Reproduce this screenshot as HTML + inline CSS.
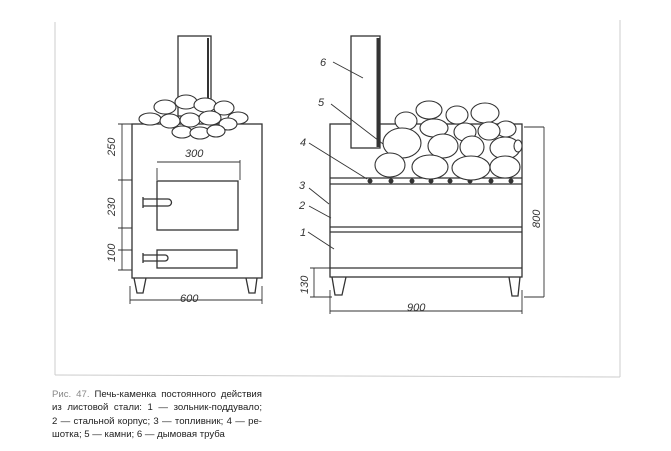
<!DOCTYPE html>
<html><head><meta charset="utf-8"><style>
body{margin:0;background:#fff;width:671px;height:451px;overflow:hidden;position:relative;font-family:"Liberation Sans",sans-serif}
.cap{position:absolute;left:52px;top:388px;width:210px;font-size:9.6px;line-height:13.3px;color:#222;text-align:justify;text-align-last:justify}
.cap>span{display:block;white-space:nowrap}
</style></head><body>
<svg width="671" height="451" style="position:absolute;left:0;top:0" fill="none" stroke="#333" stroke-width="1.3">
<g stroke="#ccc" stroke-width="1"><line x1="55" y1="22" x2="55" y2="375"/><line x1="55" y1="375" x2="620" y2="377"/><line x1="620" y1="20" x2="620" y2="377"/></g>
<rect x="178" y="36" width="33" height="80" fill="#fff"/>
<line x1="208" y1="38" x2="208" y2="116" stroke-width="2"/>
<rect x="132" y="124" width="130" height="154" fill="#fff"/>
<path d="M134 278 l3 15 h6 l3-15 M246 278 l3 15 h6 l2-15"/>
<g fill="#fff" stroke-width="1.1">
<ellipse cx="150" cy="119" rx="11" ry="6"/><ellipse cx="165" cy="107" rx="11" ry="7"/><ellipse cx="186" cy="102" rx="11" ry="7"/><ellipse cx="205" cy="105" rx="11" ry="7"/><ellipse cx="224" cy="108" rx="10" ry="7"/><ellipse cx="238" cy="118" rx="10" ry="6"/>
<ellipse cx="170" cy="121" rx="10" ry="7"/><ellipse cx="190" cy="120" rx="10" ry="7"/><ellipse cx="210" cy="118" rx="11" ry="7"/><ellipse cx="228" cy="124" rx="9" ry="6"/>
<ellipse cx="182" cy="132" rx="10" ry="6"/><ellipse cx="200" cy="133" rx="10" ry="6"/><ellipse cx="216" cy="131" rx="9" ry="6"/>
</g>
<rect x="157" y="181" width="81" height="49"/>
<rect x="157" y="250" width="80" height="18"/>
<path d="M143 199 h25 M143 206 h25 M143 197 v11 M168 199 a3.5 3.5 0 0 1 0 7"/>
<path d="M143 255 h22 M143 261 h22 M143 253 v10 M165 255 a3 3 0 0 1 0 6"/>
<g stroke-width="0.9"><path d="M122 124 v146 M118 124 h14 M118 180 h14 M118 228 h14 M118 250 h14 M118 270 h14 M157 168 v12 M240 160 v20 M157 162 h83 M130 286 v18 M262 286 v18 M130 300 h132"/></g>
<rect x="330" y="124" width="192" height="153" fill="#fff"/>
<path d="M332 277 l3 18 h7 l4-18 M509 277 l3 19 h6 l2-19"/>
<path d="M330 178 h192 M330 184 h192 M330 227 h192 M330 232 h192 M330 268 h192"/>
<g fill="#333" stroke="none"><circle cx="370" cy="181" r="2.5"/><circle cx="391" cy="181" r="2.5"/><circle cx="412" cy="181" r="2.5"/><circle cx="431" cy="181" r="2.5"/><circle cx="450" cy="181" r="2.5"/><circle cx="470" cy="181" r="2.5"/><circle cx="491" cy="181" r="2.5"/><circle cx="511" cy="181" r="2.5"/></g>
<g fill="#fff" stroke-width="1.1">
<ellipse cx="406" cy="121" rx="11" ry="9"/><ellipse cx="429" cy="110" rx="13" ry="9"/><ellipse cx="457" cy="115" rx="11" ry="9"/><ellipse cx="485" cy="113" rx="14" ry="10"/><ellipse cx="506" cy="129" rx="10" ry="8"/>
<ellipse cx="434" cy="128" rx="14" ry="9"/><ellipse cx="465" cy="132" rx="11" ry="9"/><ellipse cx="489" cy="131" rx="11" ry="9"/>
<ellipse cx="402" cy="143" rx="19" ry="15"/><ellipse cx="443" cy="146" rx="15" ry="12"/><ellipse cx="472" cy="147" rx="12" ry="11"/><ellipse cx="505" cy="148" rx="15" ry="11"/><ellipse cx="518" cy="146" rx="4" ry="6"/>
<ellipse cx="390" cy="165" rx="15" ry="12"/><ellipse cx="430" cy="167" rx="18" ry="12"/><ellipse cx="471" cy="168" rx="19" ry="12"/><ellipse cx="505" cy="167" rx="15" ry="11"/>
</g>
<rect x="351" y="36" width="29" height="112" fill="#fff"/>
<line x1="378" y1="38" x2="378" y2="147" stroke-width="3"/>
<g stroke-width="0.9"><path d="M333 62 l30 16 M331 104 l52 40 M309 143 l58 36 M309 188 l20 16 M309 206 l22 12 M308 232 l26 17"/>
<path d="M524 127 h20 M524 297 h20 M544 127 v170 M310 268 h22 M310 297 h22 M314 268 v29 M330 290 v24 M522 290 v24 M330 311 h192"/></g>
<g fill="#333" stroke="none" font-family="Liberation Sans,sans-serif" font-style="italic" font-size="11">
<text x="185" y="157">300</text><text x="180" y="302">600</text><text x="407" y="311">900</text>
<text x="320" y="66">6</text><text x="318" y="106">5</text><text x="300" y="146">4</text><text x="299" y="189">3</text><text x="299" y="209">2</text><text x="300" y="236">1</text>
<text transform="translate(115,156) rotate(-90)">250</text><text transform="translate(115,216) rotate(-90)">230</text><text transform="translate(115,262) rotate(-90)">100</text>
<text transform="translate(308,294) rotate(-90)">130</text><text transform="translate(540,228) rotate(-90)">800</text>
</g>
</svg>
<div class="cap"><span><span style="color:#888">Рис. 47.</span> Печь-каменка постоянного действия</span><span>из листовой стали: 1 — зольник-поддувало;</span><span>2 — стальной корпус; 3 — топливник; 4 — ре-</span><span style="text-align-last:left">шотка; 5 — камни; 6 — дымовая труба</span></div>
</body></html>
